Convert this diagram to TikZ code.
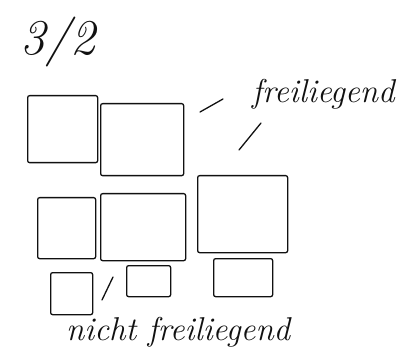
\documentclass[tikz,border=0pt]{standalone}
\usepackage{tikz}
\usetikzlibrary{positioning,calc}
\definecolor{cInk}{HTML}{111111}
\tikzset{
  pane/.style  ={draw=cInk,line width=1.3pt,rounded corners=2pt,
                 minimum width=#1,inner sep=0pt},
  note/.style  ={font=\fontsize{33}{36}\selectfont\itshape,text=cInk,inner sep=0pt},
  tick/.style  ={draw=cInk,line width=1.3pt,line cap=round},
}
\begin{document}
\begin{tikzpicture}[x=1pt, y=-1pt]
\useasboundingbox (0,0) rectangle (404,358);

% ===== heading ==========================================================
\node[note,font=\fontsize{50}{54}\selectfont\itshape] (hd) at (58,42) {3/2};

% ===== top row ==========================================================
\node[pane=70pt,minimum height=67pt,anchor=north west] (t1) at (27,95)  {};
\node[pane=83pt,minimum height=72pt,anchor=north west] (t2) at (100,103) {};

% ===== middle row =======================================================
\node[pane=58pt,minimum height=61pt,anchor=north west] (m1) at (37,197)  {};
\node[pane=85pt,minimum height=67pt,anchor=north west] (m2) at (100,193) {};
\node[pane=90pt,minimum height=77pt,anchor=north west] (m3) at (197,175) {};

% ===== bottom row =======================================================
\node[pane=42pt,minimum height=42pt,anchor=north west] (b1) at (50,272)  {};
\node[pane=44pt,minimum height=31pt,anchor=north west] (b2) at (126,265) {};
\node[pane=59pt,minimum height=38pt,anchor=north west] (b3) at (213,258) {};

% ===== labels ===========================================================
\node[note,anchor=west] (fl) at (252,94) {freiliegend};
\node[note,anchor=west] (nf) at (66,332) {nicht freiliegend};

% pointer ticks
\coordinate (p1a) at (200,112); \coordinate (p1b) at (223,99);
\coordinate (p2a) at (239,150); \coordinate (p2b) at (261,123);
\coordinate (p3a) at (113,277); \coordinate (p3b) at (102,300);
\draw[tick] (p1a) -- (p1b);
\draw[tick] (p2a) -- (p2b);
\draw[tick] (p3a) -- (p3b);
\end{tikzpicture}
\end{document}
